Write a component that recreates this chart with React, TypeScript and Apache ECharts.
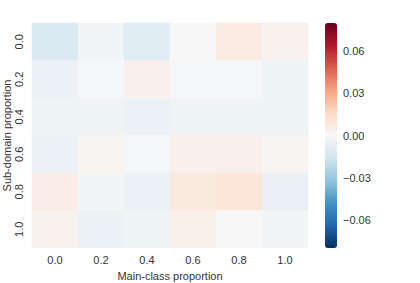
import React, { useEffect, useRef } from "react";
import * as echarts from "echarts";

const xCategories = ["0.0", "0.2", "0.4", "0.6", "0.8", "1.0"];
const yCategories = ["0.0", "0.2", "0.4", "0.6", "0.8", "1.0"];

// rows = sub-domain proportion (top to bottom), columns = main-class proportion
const row00 = [-0.012, -0.002, -0.01, 0.0, 0.007, 0.003];
const row02 = [-0.005, -0.001, 0.004, -0.001, -0.001, -0.004];
const row04 = [-0.004, -0.004, -0.005, -0.004, -0.004, -0.004];
const row06 = [-0.005, 0.002, -0.001, 0.004, 0.004, 0.002];
const row08 = [0.006, -0.002, -0.005, 0.008, 0.01, -0.006];
const row10 = [0.003, -0.005, -0.004, 0.005, 0.0, -0.002];
const rows = [row00, row02, row04, row06, row08, row10];

const colorMin = -0.08;
const colorMax = 0.08;
const colorTicks = [-0.06, -0.03, 0.0, 0.03, 0.06];

const RdBu_r = [
  "#053061", "#2166ac", "#4393c3", "#92c5de", "#d1e5f0", "#f7f7f7",
  "#fddbc7", "#f4a582", "#d6604d", "#b2182b", "#67001f",
];

const FONT = "'Liberation Sans', Arial, sans-serif";
const TEXT = "#333333";

export default function App() {
  const ref = useRef<HTMLDivElement>(null);
  useEffect(() => {
    document.body.style.margin = "0";
    if (!ref.current) return;
    const chart = echarts.init(ref.current, undefined, { renderer: "svg" });
    const data: [number, number, number][] = [];
    rows.forEach((row, yi) => row.forEach((v, xi) => data.push([xi, yi, v])));
    chart.setOption({
      animation: false,
      backgroundColor: "#ffffff",
      textStyle: { fontFamily: FONT },
      grid: [
        { left: 32, top: 23, width: 276, height: 225, outerBoundsMode: "none", containLabel: false },
        { left: 325, top: 23, width: 12, height: 225, outerBoundsMode: "none", containLabel: false },
      ],
      xAxis: [
        {
          type: "category",
          gridIndex: 0,
          data: xCategories,
          name: "Main-class proportion",
          nameLocation: "middle",
          nameGap: 22,
          nameMoveOverlap: false,
          nameTextStyle: { color: TEXT, fontSize: 11, fontFamily: FONT },
          axisLine: { show: false },
          axisTick: { show: false },
          splitLine: { show: false },
          axisLabel: { color: TEXT, fontSize: 11, margin: 6, fontFamily: FONT },
        },
        {
          type: "value",
          gridIndex: 1,
          show: false,
        },
      ],
      yAxis: [
        {
          type: "category",
          gridIndex: 0,
          data: yCategories,
          inverse: true,
          name: "Sub-domain proportion",
          nameLocation: "middle",
          nameRotate: 90,
          nameGap: 20,
          nameMoveOverlap: false,
          nameTextStyle: { color: TEXT, fontSize: 11, fontFamily: FONT },
          axisLine: { show: false },
          axisTick: { show: false },
          splitLine: { show: false },
          axisLabel: { color: TEXT, fontSize: 11, rotate: 90, margin: 8, fontFamily: FONT },
        },
        {
          type: "value",
          gridIndex: 1,
          position: "right",
          min: colorMin,
          max: colorMax,
          interval: 0.01,
          axisLine: { show: false },
          axisTick: { show: false },
          splitLine: { show: false },
          axisLabel: {
            color: TEXT,
            fontSize: 11,
            margin: 6,
            fontFamily: FONT,
            formatter: (v: number) => {
              const hit = colorTicks.find((t) => Math.abs(t - v) < 1e-6);
              if (hit === undefined) return "";
              return hit.toFixed(2).replace("-", "\u2212");
            },
          },
        },
      ],
      visualMap: {
        type: "continuous",
        seriesIndex: 0,
        min: colorMin,
        max: colorMax,
        calculable: false,
        orient: "vertical",
        left: 325,
        top: 23,
        itemWidth: 12,
        itemHeight: 225,
        padding: 0,
        inRange: { color: RdBu_r },
        textStyle: { color: "transparent" },
        hoverLink: false,
      },
      series: [
        {
          type: "heatmap",
          xAxisIndex: 0,
          yAxisIndex: 0,
          data,
          itemStyle: { borderWidth: 0 },
          emphasis: { disabled: true },
        },
      ],
    });
    return () => chart.dispose();
  }, []);
  return <div ref={ref} style={{ width: 420, height: 283 }} />;
}
